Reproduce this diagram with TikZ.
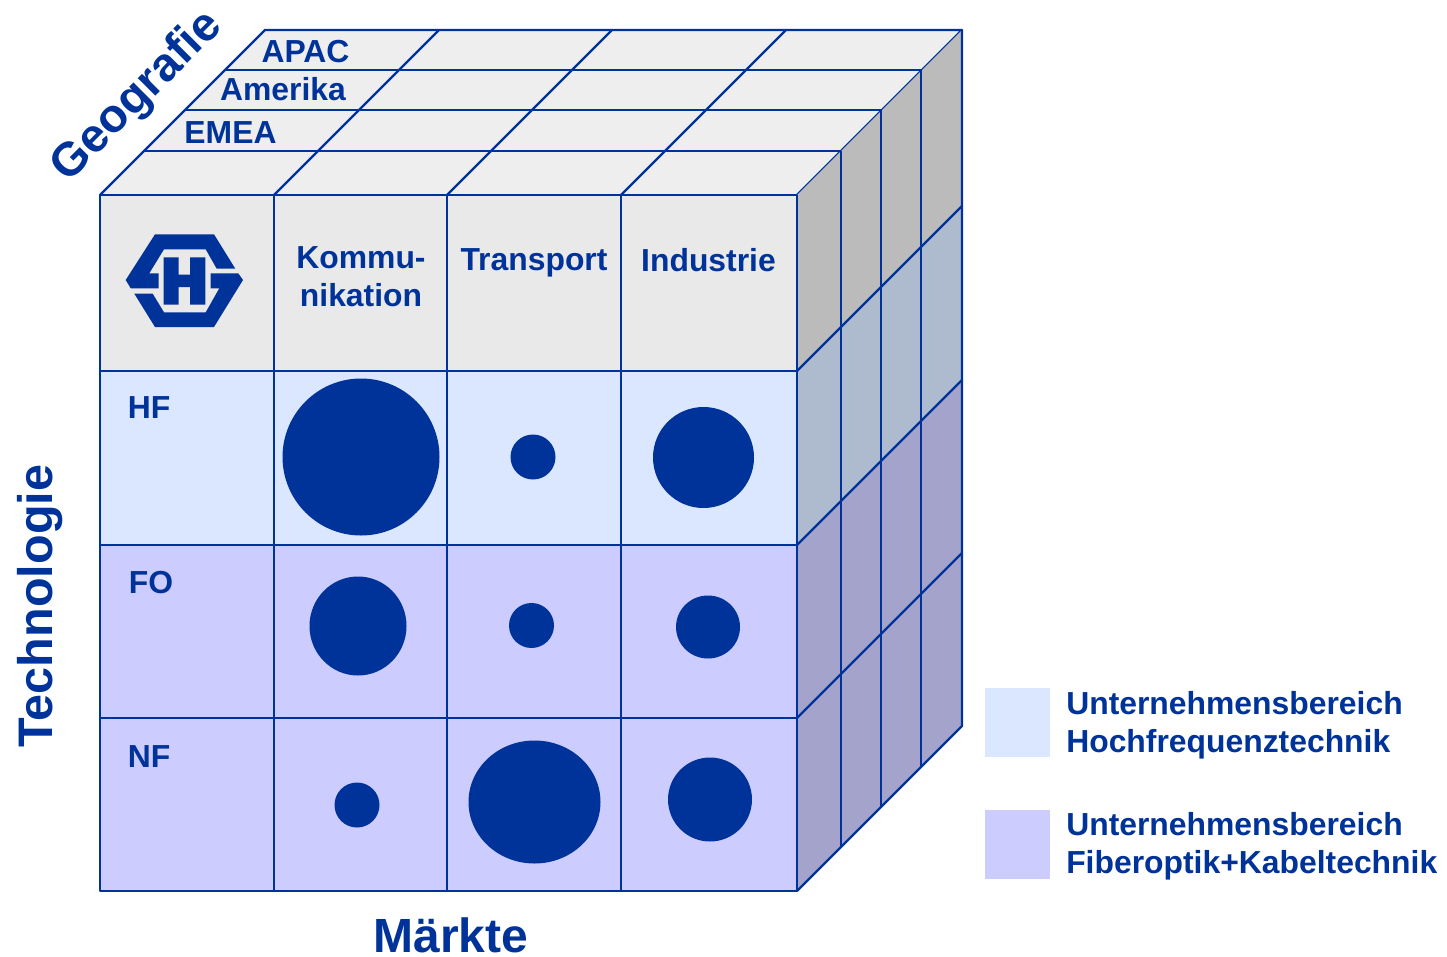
\documentclass[tikz,border=0pt]{standalone}
\usepackage{fontspec}
\setmainfont{Liberation Sans}
\definecolor{Lcolor}{RGB}{0, 51, 153}
\definecolor{Topcolor}{RGB}{238, 238, 238}
\definecolor{Headcolor}{RGB}{233, 233, 233}
\definecolor{HFcolor}{RGB}{219, 230, 255}
\definecolor{FOcolor}{RGB}{204, 204, 255}
\definecolor{SideGcolor}{RGB}{187, 187, 187}
\definecolor{SideHcolor}{RGB}{174, 186, 206}
\definecolor{SideFcolor}{RGB}{163, 163, 204}
\def\labelsize{\fontsize{23.9}{28.5}\selectfont\bfseries}
\def\titlesize{\fontsize{36}{43}\selectfont\bfseries}
\tikzset{
    grid/.style={draw=Lcolor, line width=1.7pt, line join=round},
    thin grid/.style={draw=Lcolor, line width=1.3pt},
    blob/.style={draw=none, fill=Lcolor},
    label/.style={text=Lcolor, font=\labelsize, inner sep=0pt},
    title/.style={text=Lcolor, font=\titlesize, inner sep=0pt},
    legendbox/.style={draw=none, minimum width=48.75pt, minimum height=51.75pt, inner sep=0pt},
}

\begin{document}
\begin{tikzpicture}[x=0.75pt, y=-0.75pt]
    \useasboundingbox (0, 0) rectangle (1447, 957);
    % top face
    \fill[Topcolor] (100, 195) -- (265, 30) -- (962, 30) -- (797, 195) -- cycle;
    \draw[grid] (100, 195) -- (265, 30) -- (962, 30) -- (797, 195);
    \draw[grid] (274, 195) -- (439, 30);
    \draw[grid] (447, 195) -- (612, 30);
    \draw[grid] (621, 195) -- (786, 30);
    \draw[grid] (144, 151) -- (841, 151);
    \draw[grid] (185, 110) -- (881, 110);
    \draw[grid] (225, 70) -- (921, 70);
    % side face
    \fill[SideGcolor] (797, 195) -- (962, 30) -- (962, 206) -- (797, 371) -- cycle;
    \fill[SideHcolor] (797, 371) -- (962, 206) -- (962, 380) -- (797, 545) -- cycle;
    \fill[SideFcolor] (797, 545) -- (962, 380) -- (962, 726) -- (797, 891) -- cycle;
    \draw[thin grid] (841, 151) -- (841, 847);
    \draw[thin grid] (881, 110) -- (881, 807);
    \draw[thin grid] (921, 70) -- (921, 767);
    \draw[grid] (797, 371) -- (962, 206);
    \draw[grid] (797, 545) -- (962, 380);
    \draw[grid] (797, 718) -- (962, 553);
    \draw[grid] (962, 30) -- (962, 726) -- (797, 891);
    % front face
    \fill[Headcolor] (100, 195) rectangle (797, 371);
    \fill[HFcolor] (100, 371) rectangle (797, 545);
    \fill[FOcolor] (100, 545) rectangle (797, 891);
    \draw[grid] (100, 195) rectangle (797, 891);
    \draw[grid] (274, 195) -- (274, 891);
    \draw[grid] (447, 195) -- (447, 891);
    \draw[grid] (621, 195) -- (621, 891);
    \draw[grid] (100, 371) -- (797, 371);
    \draw[grid] (100, 545) -- (797, 545);
    \draw[grid] (100, 718) -- (797, 718);
    % logo
    \fill[Lcolor] (125.7, 280) -- (155, 234.3) -- (214, 234.3) -- (235.3, 268.7) -- (216.7, 268.7) -- (205.7, 249.3) -- (164, 249.3) -- (149.3, 273.3) -- (158.7, 273.3) -- (158.7, 288.3) -- (130.7, 288.3) -- cycle;
    \fill[Lcolor] (243, 280) -- (214, 327) -- (155, 327) -- (134.3, 293.7) -- (152.7, 293.7) -- (164, 312.3) -- (205.7, 312.3) -- (219.3, 288.3) -- (210.7, 288.3) -- (210.7, 273.3) -- (238.3, 273.3) -- cycle;
    \fill[Lcolor] (163.7, 257.3) -- (178.7, 257.3) -- (178.7, 274.7) -- (190, 274.7) -- (190, 257.3) -- (205.3, 257.3) -- (205.3, 304.7) -- (190, 304.7) -- (190, 287) -- (178.7, 287) -- (178.7, 304.7) -- (163.7, 304.7) -- cycle;
    % HF row
    \fill[blob] (361, 457) ellipse (78.5 and 78.5);
    \fill[blob] (533, 457) ellipse (22.5 and 22.5);
    \fill[blob] (703.5, 457.5) ellipse (50.5 and 50.5);
    % FO row
    \fill[blob] (358, 626) ellipse (48.5 and 49.5);
    \fill[blob] (531.5, 625.5) ellipse (22.5 and 22.5);
    \fill[blob] (708, 627) ellipse (32 and 31.5);
    % NF row
    \fill[blob] (357, 805) ellipse (22.5 and 22.5);
    \fill[blob] (534.5, 802) ellipse (66 and 61.5);
    \fill[blob] (710, 799.5) ellipse (42 and 42);
    % labels
    \node[label] (apac) at (305.5, 52) {APAC};
    \node[label] (amerika) at (283, 89) {Amerika};
    \node[label] (emea) at (230.5, 132.5) {EMEA};
    \node[label, align=center] (komm) at (361, 277) {Kommu-\\nikation};
    \node[label] (trans) at (534, 263) {Transport};
    \node[label] (indu) at (708.5, 260.5) {Industrie};
    \node[label] (hf) at (149, 408) {HF};
    \node[label] (fo) at (151, 583) {FO};
    \node[label] (nf) at (149, 757) {NF};
    \node[title, rotate=45, font=\fontsize{35.3}{41}\selectfont\bfseries] (geo) at (137.5, 97) {Geografie};
    \node[title, rotate=90, font=\fontsize{36.4}{43}\selectfont\bfseries] (tech) at (40, 606) {Technologie};
    \node[title] (markt) at (451, 935.5) {Märkte};
    % legend
    \node[legendbox, fill=HFcolor] (lHF) at (1017.5, 722.5) {};
    \node[legendbox, fill=FOcolor] (lFO) at (1017.5, 844.5) {};
    \node[label, anchor=west, align=left] (tHF) at (1066, 725.5) {Unternehmensbereich\\Hochfrequenztechnik};
    \node[label, anchor=west, align=left] (tFO) at (1066, 846) {Unternehmensbereich\\Fiberoptik+Kabeltechnik};
\end{tikzpicture}
\end{document}
